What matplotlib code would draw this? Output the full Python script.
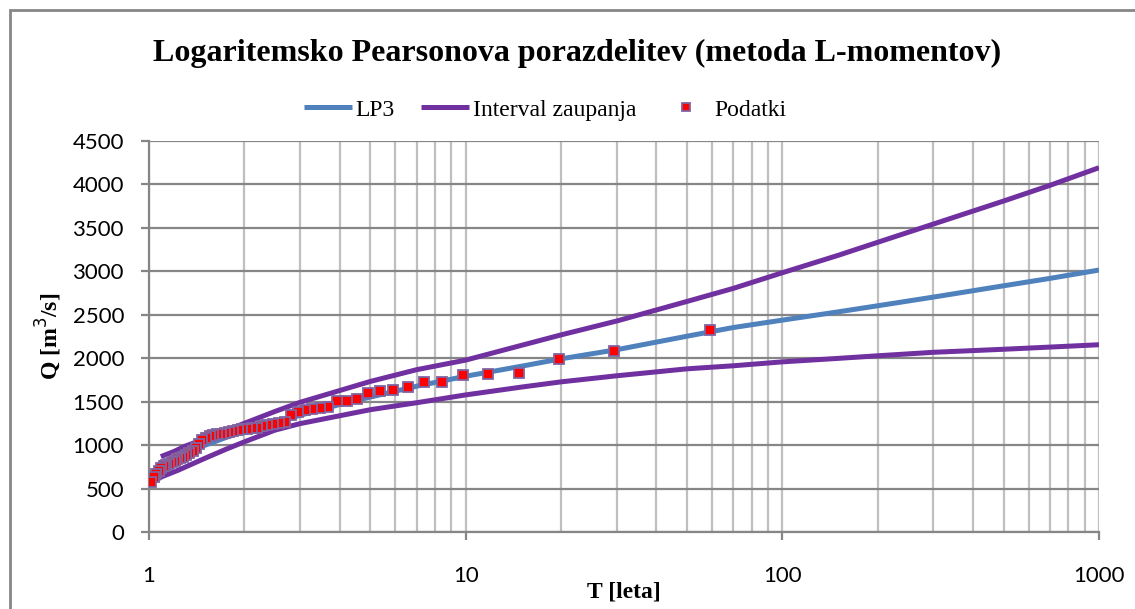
import numpy as np
import matplotlib
matplotlib.use("Agg")
import matplotlib.pyplot as plt
from matplotlib.ticker import FixedLocator, NullFormatter, LogLocator
from matplotlib.patches import Rectangle

#==================================================================================================
#			DATA
#==================================================================================================
# Observed annual peaks, ranked (Weibull return period T = 59/m)
rank = np.arange(1, 59)
T_obs = 59.0 / rank
Q_obs = [2326, 2085, 1993, 1835, 1820, 1805, 1725, 1725, 1671, 1640,
         1621, 1605, 1533, 1510, 1510, 1444, 1433, 1421, 1406, 1380,
         1345, 1268, 1253, 1242, 1234, 1222, 1203, 1196, 1190, 1184,
         1173, 1165, 1150, 1138, 1130, 1127, 1119, 1107, 1088, 1060,
         1020, 966, 935, 910, 889, 870, 855, 839, 820, 805,
         790, 777, 765, 745, 705, 670, 640, 582]

# LP3 fit and confidence band
T_lp3 = [1.017, 1.05, 1.1, 1.2, 1.3, 1.4, 1.5, 1.75, 2, 2.5, 3, 4, 5, 7, 10,
         15, 20, 30, 50, 70, 100, 150, 200, 300, 500, 700, 1000]
Q_lp3 = [590, 670, 740, 830, 900, 955, 1000, 1090, 1160, 1265, 1345, 1470, 1555, 1680, 1795,
         1910, 1995, 2100, 2255, 2355, 2440, 2535, 2605, 2705, 2835, 2920, 3016]

T_up = [1.09, 1.2, 1.3, 1.5, 1.75, 2, 2.5, 3, 4, 5, 7, 10,
        15, 20, 30, 50, 70, 100, 150, 200, 300, 500, 700, 1000]
Q_up = [870, 930, 990, 1075, 1170, 1253, 1390, 1495, 1630, 1735, 1870, 1980,
        2150, 2270, 2430, 2655, 2805, 2985, 3185, 3335, 3545, 3810, 3990, 4193]

T_low = [1.017, 1.1, 1.24, 1.5, 1.75, 2, 2.5, 3, 4, 5, 7, 10,
         15, 20, 30, 50, 70, 100, 150, 200, 300, 500, 700, 1000]
Q_low = [570, 640, 716, 850, 955, 1040, 1175, 1250, 1340, 1410, 1490, 1580,
         1670, 1730, 1800, 1880, 1915, 1960, 2000, 2030, 2070, 2105, 2130, 2157]

y_ticks = [0, 500, 1000, 1500, 2000, 2500, 3000, 3500, 4000, 4500]
x_ticks = [1, 10, 100, 1000]
x_labels = ['1', '10', '100', '1000']

#==================================================================================================
#			PLOTTING
#==================================================================================================
grid_dark = '#868686'
grid_light = '#bfbfbf'
serif = 'Liberation Serif'
sans = 'Lato'

fig = plt.figure(figsize=(11.35, 6.09), dpi=100)
ax = fig.add_axes([149/1135., 1-532.3/609., (1099-149)/1135., (532.3-141)/609.])

ax.plot(T_lp3, Q_lp3, color='#4f81bd', lw=3.6, label='LP3', zorder=3, solid_capstyle='butt')
ax.plot(T_up, Q_up, color='#7030a0', lw=3.6, label='Interval zaupanja', zorder=3, solid_capstyle='butt')
ax.plot(T_low, Q_low, color='#7030a0', lw=3.6, zorder=3, solid_capstyle='butt')
ax.plot(T_obs, Q_obs, ls='none', marker='s', ms=6.5, mfc='#ff0000', mec='#8064a2', mew=1.3,
        label='Podatki', zorder=4)

ax.set_xscale('log')
ax.set_xlim(1, 1000)
ax.set_ylim(0, 4500)
ax.xaxis.set_major_locator(FixedLocator(x_ticks))
ax.set_xticklabels(x_labels)
ax.xaxis.set_minor_locator(LogLocator(base=10, subs=np.arange(2, 10)))
ax.xaxis.set_minor_formatter(NullFormatter())
ax.set_yticks(y_ticks)

ax.grid(True, axis='x', which='both', color=grid_light, lw=1.6, zorder=0)
ax.grid(True, axis='y', which='major', color=grid_dark, lw=1.6, zorder=0)
ax.set_axisbelow(True)

for s in ['top', 'right']:
    ax.spines[s].set_visible(False)
for s in ['left', 'bottom']:
    ax.spines[s].set_color(grid_dark)
    ax.spines[s].set_linewidth(1.6)

ax.tick_params(axis='y', which='major', length=6, width=1.6, color=grid_dark, pad=12,
               labelsize=16)
ax.tick_params(axis='x', which='major', length=6, width=1.6, color=grid_dark, pad=18,
               labelsize=16)
ax.tick_params(axis='x', which='minor', length=0)
for lab in ax.get_xticklabels() + ax.get_yticklabels():
    lab.set_family(sans)

ax.set_ylabel('Q [m$^3$/s]', family=serif, fontweight='bold', fontsize=17, labelpad=6)
ax.set_xlabel('T [leta]', family=serif, fontweight='bold', fontsize=17, labelpad=-3)

fig.text(0.508, 1-53/609., 'Logaritemsko Pearsonova porazdelitev (metoda L-momentov)',
         family=serif, fontweight='bold', fontsize=23, ha='center', va='center')

fig.legend(loc='center', bbox_to_anchor=(545/1135., 1-110/609.), ncol=3, frameon=False,
           prop={'family': serif, 'size': 17}, handlelength=2.05, handletextpad=0.15,
           columnspacing=1.1, markerscale=0.85)

# outer chart frame
fig.patches.append(Rectangle((10/1135., -0.1), 1.2, 1.1-10/609., transform=fig.transFigure,
                             fill=False, ec=grid_dark, lw=2, zorder=10))

fig.savefig('out.png', dpi=100)
